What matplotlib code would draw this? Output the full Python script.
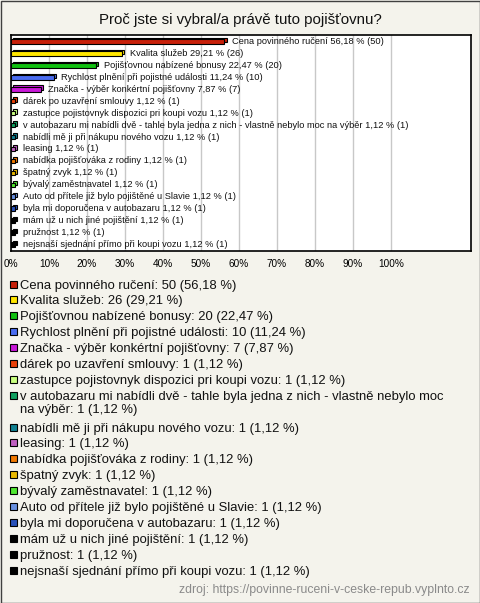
import textwrap
import matplotlib.pyplot as plt
from matplotlib.patches import Rectangle

plt.rcParams['font.family'] = ['Liberation Sans', 'DejaVu Sans']

# data
nazvy = [
    "Cena povinného ručení",
    "Kvalita služeb",
    "Pojišťovnou nabízené bonusy",
    "Rychlost plnění při pojistné události",
    "Značka - výběr konkértní pojišťovny",
    "dárek po uzavření smlouvy",
    "zastupce pojistovnyk dispozici pri koupi vozu",
    "v autobazaru mi nabídli dvě - tahle byla jedna z nich - vlastně nebylo moc na výběr",
    "nabídli mě ji při nákupu nového vozu",
    "leasing",
    "nabídka pojišťováka z rodiny",
    "špatný zvyk",
    "bývalý zaměstnavatel",
    "Auto od přítele již bylo pojištěné u Slavie",
    "byla mi doporučena v autobazaru",
    "mám už u nich jiné pojištění",
    "pružnost",
    "nejsnaší sjednání přímo při koupi vozu",
]
pocty = [50, 26, 20, 10, 7, 1, 1, 1, 1, 1, 1, 1, 1, 1, 1, 1, 1, 1]
procenta = [56.18, 29.21, 22.47, 11.24, 7.87, 1.12, 1.12, 1.12, 1.12, 1.12,
            1.12, 1.12, 1.12, 1.12, 1.12, 1.12, 1.12, 1.12]
barvy = ["#c8200a", "#ffe600", "#10c010", "#4a6cf0", "#c818d8", "#e84008",
         "#c8ff80", "#10a060", "#108090", "#c060c0", "#f07800", "#e8b800",
         "#50e830", "#6890e0", "#2850b8", "#000000", "#000000", "#000000"]
ticky = [0, 10, 20, 30, 40, 50, 60, 70, 80, 90, 100]

pozadi = "#f4f3ec"


def fmt(v):
    return ("%.2f" % v).replace(".", ",")


fig = plt.figure(figsize=(4.8, 6.03), dpi=100, facecolor=pozadi)
fig.patches.append(Rectangle((0.5 / 480, 0.5 / 603), 1 - 1 / 480, 1 - 1 / 603,
                             transform=fig.transFigure, fill=False,
                             edgecolor="#404040", linewidth=1))

fig.text(0.5, 1 - 20 / 603, "Proč jste si vybral/a právě tuto pojišťovnu?",
         ha="center", va="center", fontsize=10.8, color="#111111")

ax = fig.add_axes([11 / 480, (603 - 251) / 603, 459.7 / 480, 216 / 603])
ax.set_facecolor("white")
n = len(nazvy)
ax.set_xlim(0, 121)
ax.set_ylim(n - 0.45, -0.55)
ax.set_xticks(ticky)
ax.set_xticklabels(["%d%%" % t for t in ticky], fontsize=7.2)
ax.tick_params(axis="x", length=0, pad=6)
ax.set_yticks([])
ax.grid(axis="x", color="#c8c8c8", linewidth=1)
ax.set_axisbelow(True)
for s in ax.spines.values():
    s.set_linewidth(1.2)
    s.set_color("black")

h = 0.38
for i, (p, c, nm, k) in enumerate(zip(procenta, barvy, nazvy, pocty)):
    # zadni stena (3D efekt)
    ax.barh(i - 0.13, p, height=h, left=0.55, color=c, edgecolor="black",
            linewidth=0.8, zorder=2)
    ax.barh(i, p, height=h, color=c, edgecolor="black", linewidth=0.8, zorder=3)
    ax.text(p + 2.0, i, "%s %s %% (%d)" % (nm, fmt(p), k), va="center",
            ha="left", fontsize=6.7, color="#111111", zorder=4)

# legenda
lg = fig.add_axes([0, 0, 1, 1], facecolor="none")
lg.set_xlim(0, 480)
lg.set_ylim(603, 0)
lg.axis("off")
y = 285
for nm, k, p, c in zip(nazvy, pocty, procenta, barvy):
    txt = textwrap.fill("%s: %d (%s %%)" % (nm, k, fmt(p)), width=76)
    lg.add_patch(Rectangle((10, y - 4.5), 7, 7, facecolor=c,
                           edgecolor="black", linewidth=0.8))
    lg.text(20, y - 5.5, txt, va="top", ha="left", fontsize=9.4,
            color="#111111", linespacing=1.12)
    y += 15.9 * (txt.count("\n") + 1)

lg.text(470, 590, "zdroj: https://povinne-ruceni-v-ceske-repub.vyplnto.cz",
        ha="right", va="center", fontsize=8.8, color="#8a8a8a")

fig.savefig("out.png", dpi=100, facecolor=pozadi)
